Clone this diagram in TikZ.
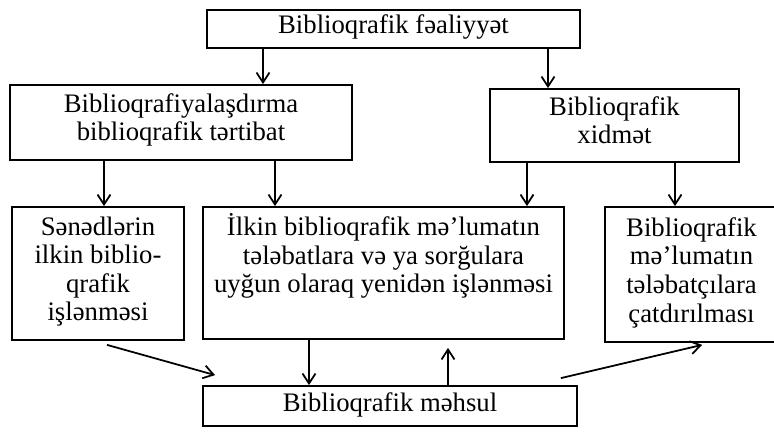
\documentclass[tikz,border=0pt]{standalone}
\usepackage{fontspec}
\setmainfont{Liberation Serif}
\usetikzlibrary{positioning,arrows.meta}

\begin{document}
\begin{tikzpicture}[
        blok/.style={draw, line width=1pt, inner sep=0pt},
        yazi/.style={align=center, inner sep=0pt, font=\fontsize{15.2}{16.3}\selectfont},
        ox/.style={-{Straight Barb[length=2mm,width=2.6mm]}, line width=1pt}]
        \useasboundingbox (0,0) rectangle (15.48,-8.64);
        \node[blok, minimum width=7.46cm, minimum height=0.76cm] (faal) at (7.87,-0.58) {};
        \node[blok, minimum width=6.84cm, minimum height=1.50cm] (tertib) at (3.62,-2.45) {};
        \node[blok, minimum width=4.98cm, minimum height=1.46cm] (xidmet) at (12.29,-2.51) {};
        \node[blok, minimum width=3.44cm, minimum height=2.66cm] (isle) at (1.96,-5.47) {};
        \node[blok, minimum width=7.22cm, minimum height=2.64cm] (yeni) at (7.67,-5.46) {};
        \node[blok, minimum width=3.46cm, minimum height=2.70cm] (catd) at (13.83,-5.49) {};
        \node[blok, minimum width=7.48cm, minimum height=0.80cm] (mehsul) at (7.80,-8.12) {};
        \node[yazi, below=0.10cm of faal.north] (faal-t) {Biblioqrafik fəaliyyət};
        \node[yazi, below=0.18cm of tertib.north] (tertib-t) {Biblioqrafiyalaşdırma\\biblioqrafik tərtibat};
        \node[yazi, below=0.16cm of xidmet.north] (xidmet-t) {Biblioqrafik\\xidmət};
        \node[yazi, below=0.20cm of isle.north] (isle-t) {Sənədlərin\\ilkin biblio-\\qrafik\\işlənməsi};
        \node[yazi, below=0.14cm of yeni.north] (yeni-t) {İlkin biblioqrafik mə'lumatın\\tələbatlara və ya sorğulara\\uyğun olaraq yenidən işlənməsi};
        \node[yazi, below=0.22cm of catd.north] (catd-t) {Biblioqrafik\\mə'lumatın\\tələbatçılara\\çatdırılması};
        \node[yazi, below=0.14cm of mehsul.north] (mehsul-t) {Biblioqrafik məhsul};
        \coordinate (k1) at (5.26,0);
        \coordinate (k2) at (10.96,0);
        \coordinate (k3) at (2.08,0);
        \coordinate (k4) at (5.50,0);
        \coordinate (k5) at (10.54,0);
        \coordinate (k6) at (13.50,0);
        \coordinate (k7) at (6.18,0);
        \coordinate (k8) at (8.96,0);
        \draw[ox] (faal.south -| k1) -- (tertib.north -| k1);
        \draw[ox] (faal.south -| k2) -- (xidmet.north -| k2);
        \draw[ox] (tertib.south -| k3) -- (isle.north -| k3);
        \draw[ox] (tertib.south -| k4) -- (yeni.north -| k4);
        \draw[ox] (xidmet.south -| k5) -- (yeni.north -| k5);
        \draw[ox] (xidmet.south -| k6) -- (catd.north -| k6);
        \draw[ox] (yeni.south -| k7) -- (mehsul.north -| k7);
        \draw[ox, shorten >=0.16cm] (mehsul.north -| k8) -- (yeni.south -| k8);
        \draw[ox] ([xshift=0.18cm,yshift=-0.08cm]isle.south) -- ([xshift=0.26cm,yshift=0.20cm]mehsul.north west);
        \draw[ox] ([xshift=-0.34cm,yshift=0.14cm]mehsul.north east) -- ([xshift=1.96cm,yshift=-0.04cm]catd.south west);
    \end{tikzpicture}
\end{document}
